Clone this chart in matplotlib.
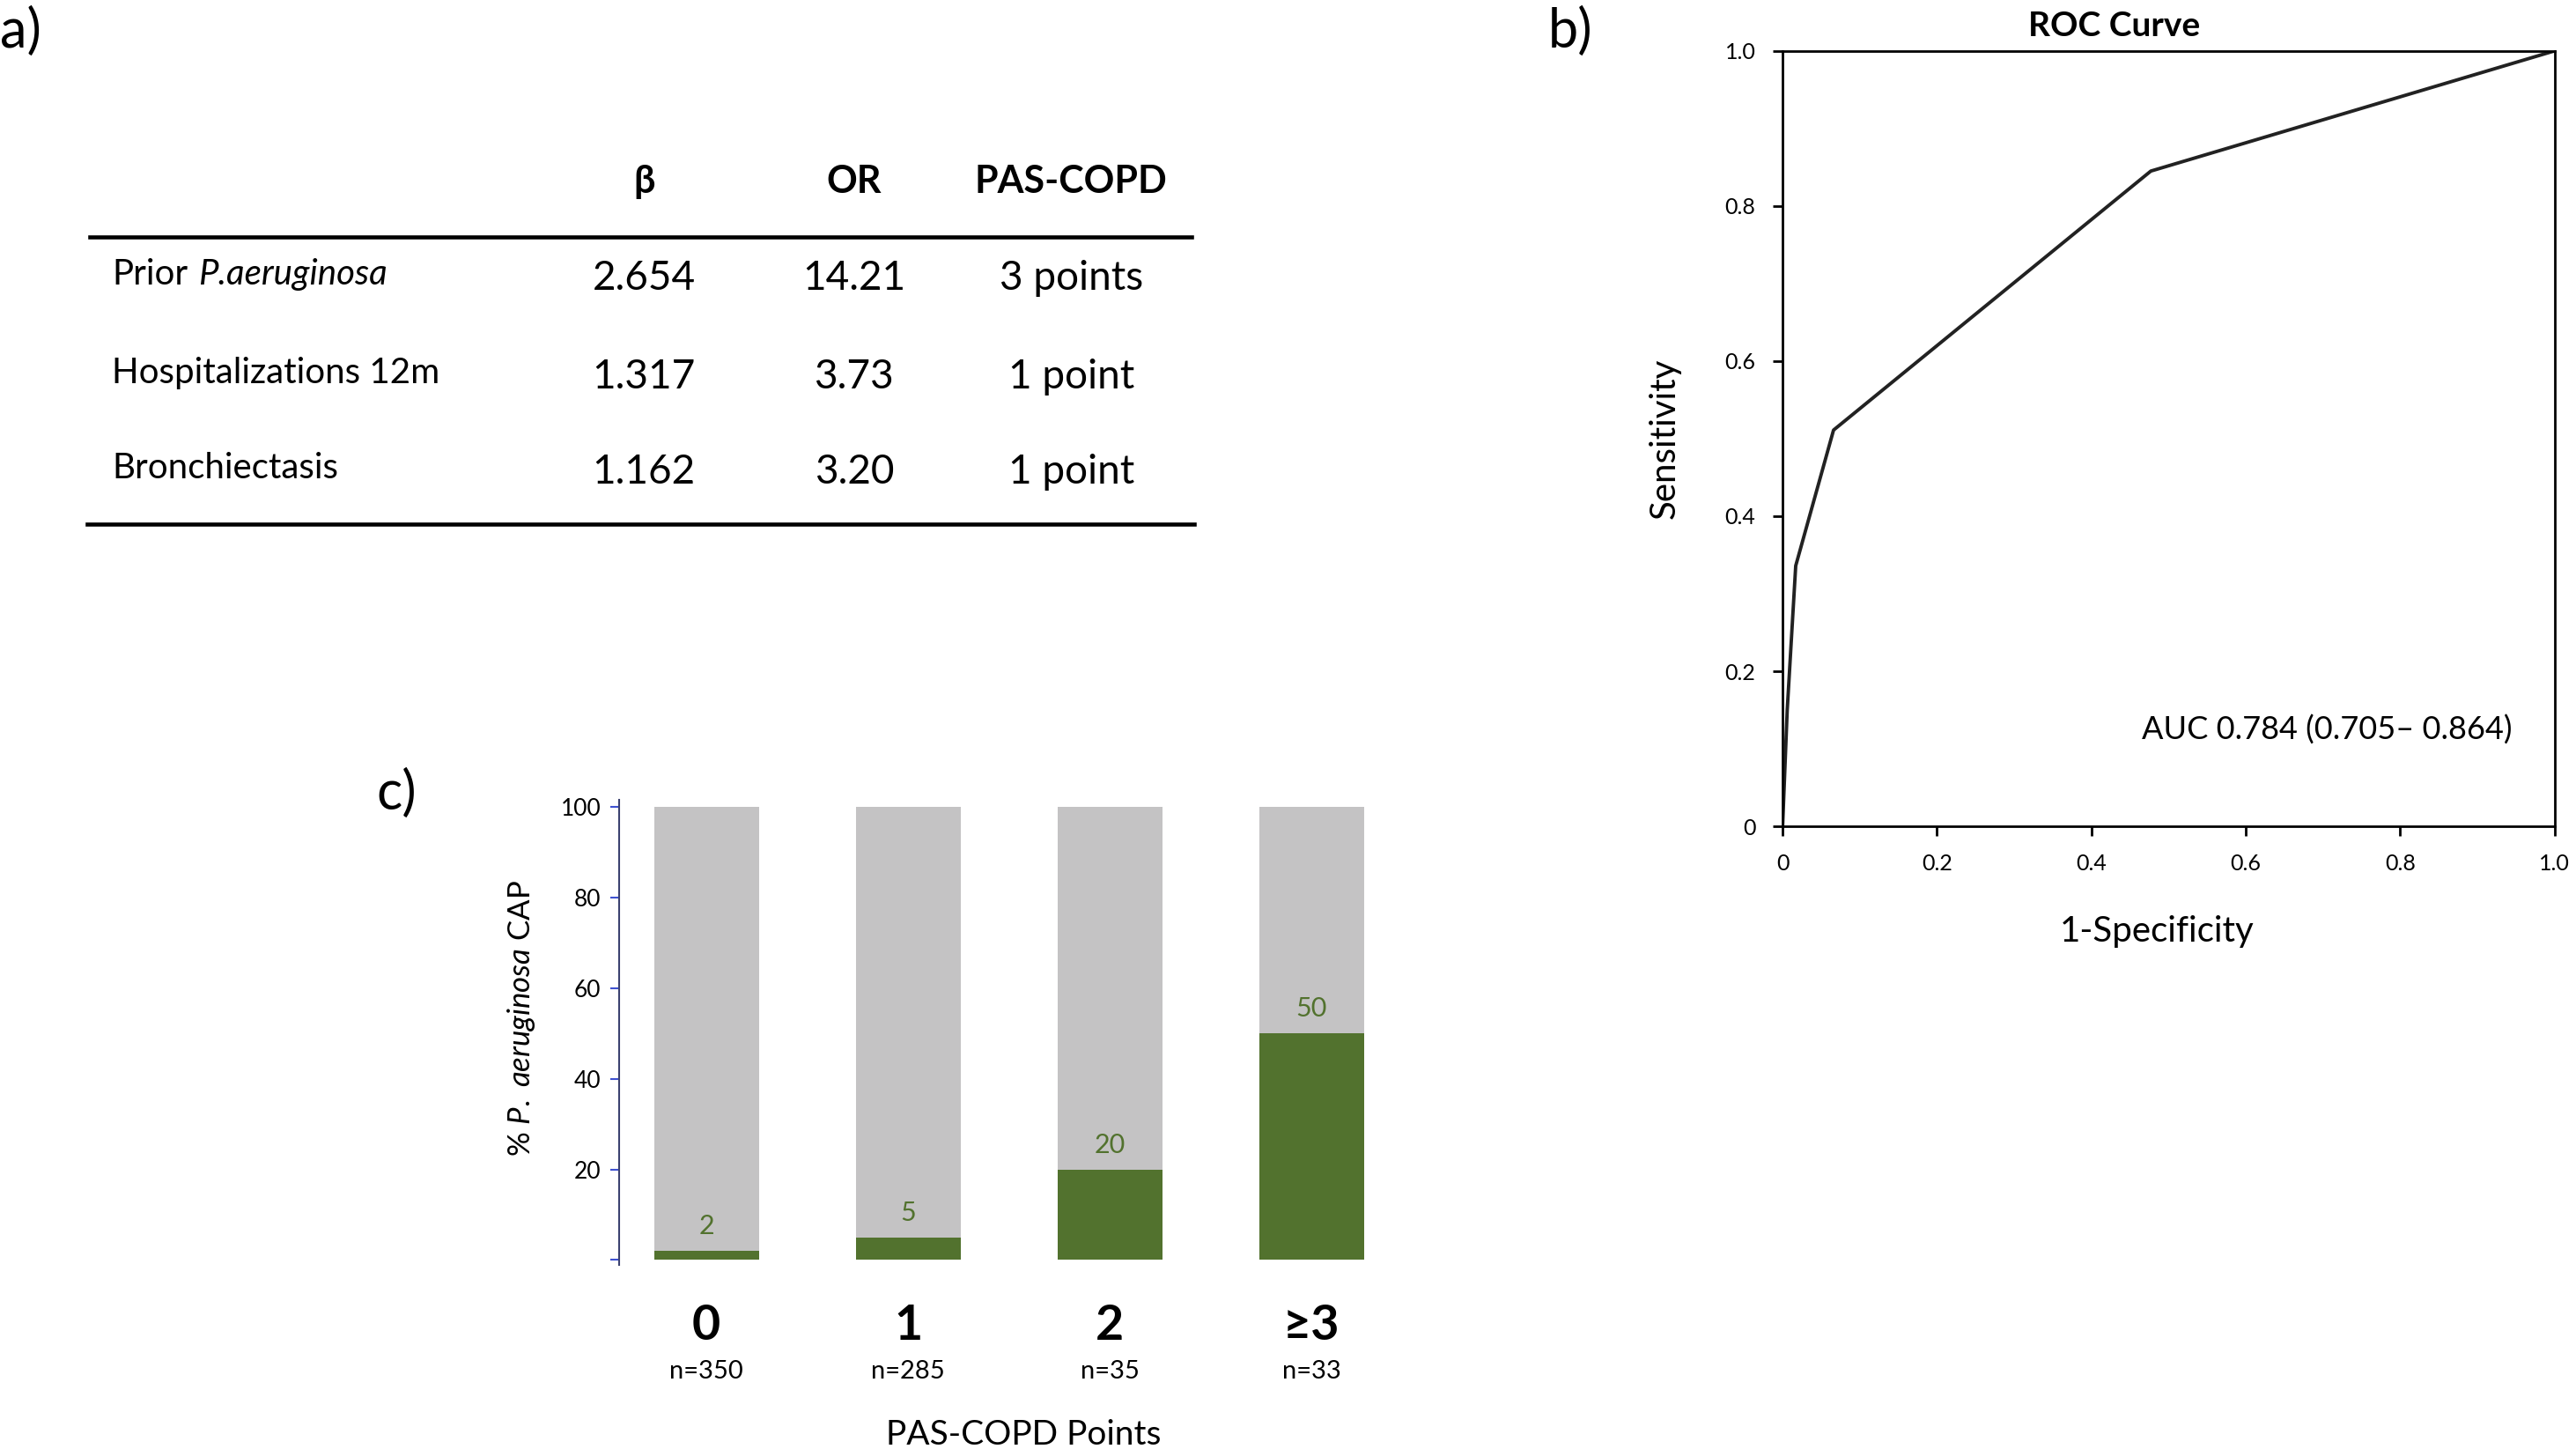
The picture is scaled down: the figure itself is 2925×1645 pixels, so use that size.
import matplotlib.pyplot as plt
from matplotlib.lines import Line2D

plt.rcParams['font.family'] = ['Lato', 'DejaVu Sans']
plt.rcParams['mathtext.fontset'] = 'custom'
plt.rcParams['mathtext.rm'] = 'Lato'
plt.rcParams['mathtext.it'] = 'Lato:italic'

# panel a) table
col_heads = ['β', 'OR', 'PAS-COPD']
row_labels = ['Prior', 'Hospitalizations 12m', 'Bronchiectasis']
row_italic = ['P.aeruginosa', '', '']
beta = ['2.654', '1.317', '1.162']
odds = ['14.21', '3.73', '3.20']
points = ['3 points', '1 point', '1 point']

# panel b) ROC curve
fpr = [0.0, 0.006, 0.017, 0.066, 0.477, 1.0]
tpr = [0.0, 0.15, 0.336, 0.511, 0.845, 1.0]
auc_text = 'AUC 0.784 (0.705– 0.864)'

# panel c) bars
score_cats = ['0', '1', '2', '≥3']
n_labels = ['n=350', 'n=285', 'n=35', 'n=33']
pct_pa = [2, 5, 20, 50]

GREEN = '#52722e'
GREY = '#c4c3c4'

fig = plt.figure(figsize=(29.25, 16.45), dpi=100)
renderer = fig.canvas.get_renderer()

# ---- a) ----
fig.text(0.0, 0.978, 'a)', fontsize=44, va='center', ha='left')
col_x = [0.250, 0.3316, 0.4158]
for x, h in zip(col_x, col_heads):
    fig.text(x, 0.875, h, fontsize=31, fontweight='bold', ha='center', va='center')
row_y = [0.8107, 0.7426, 0.6769]
for i, y in enumerate(row_y):
    t = fig.text(0.0434, y, row_labels[i], fontsize=29, ha='left', va='center')
    if row_italic[i]:
        bb = t.get_window_extent(renderer)
        x_end = bb.x1 / fig.bbox.width
        fig.text(x_end + 0.004, y, row_italic[i], fontsize=29, style='italic', ha='left', va='center')
    fig.text(col_x[0], y - 0.003, beta[i], fontsize=33, ha='center', va='center')
    fig.text(col_x[1], y - 0.003, odds[i], fontsize=33, ha='center', va='center')
    fig.text(col_x[2], y - 0.003, points[i], fontsize=33, ha='center', va='center')
fig.add_artist(Line2D([0.035, 0.4624], [0.8367, 0.8367], color='black', lw=3.3))
fig.add_artist(Line2D([0.0338, 0.4636], [0.6383, 0.6383], color='black', lw=3.3))

# ---- b) ----
fig.text(0.601, 0.978, 'b)', fontsize=44, va='center', ha='left')
ax = fig.add_axes([0.692, 0.4297, 0.2997, 0.5352])
ax.plot(fpr, tpr, color='#222222', lw=2.8)
ax.set_xlim(0, 1)
ax.set_ylim(0, 1)
ticks = [0, 0.2, 0.4, 0.6, 0.8, 1.0]
tick_lbl = ['0', '0.2', '0.4', '0.6', '0.8', '1.0']
ax.set_xticks(ticks)
ax.set_xticklabels(tick_lbl)
ax.set_yticks(ticks)
ax.set_yticklabels(tick_lbl)
ax.tick_params(labelsize=18, length=8, width=2, pad=14)
for s in ax.spines.values():
    s.set_linewidth(2)
ax.set_title('ROC Curve', fontsize=28, fontweight='bold', x=0.43, pad=12)
ax.set_xlabel('1-Specificity', fontsize=29)
ax.xaxis.set_label_coords(0.485, -0.115)
ax.set_ylabel('Sensitivity', fontsize=29, labelpad=36)
ax.text(0.705, 0.125, auc_text, fontsize=26, ha='center', va='center', transform=ax.transAxes)

# ---- c) ----
fig.text(0.146, 0.452, 'c)', fontsize=44, va='center', ha='left')
bx = fig.add_axes([0.2404, 0.1304, 0.2953, 0.3129])
pos = list(range(len(score_cats)))
bx.bar(pos, [100] * len(pos), width=0.52, color=GREY)
bx.bar(pos, pct_pa, width=0.52, color=GREEN)
for p, v in zip(pos, pct_pa):
    bx.annotate(str(v), (p, v), xytext=(0, 10), textcoords='offset points',
                ha='center', va='bottom', fontsize=22, color=GREEN)
bx.set_xlim(-0.432, 3.34)
bx.set_ylim(0, 100)
bx.set_yticks([0, 20, 40, 60, 80, 100])
bx.set_yticklabels(['', '20', '40', '60', '80', '100'])
bx.tick_params(axis='y', labelsize=19, length=7, width=1.5, color='#3f51d0', pad=8)
for s in ['top', 'right', 'bottom']:
    bx.spines[s].set_visible(False)
bx.spines['left'].set_color('#3c4270')
bx.spines['left'].set_linewidth(1.5)
bx.spines['left'].set_bounds(-1, 101.5)
bx.set_xticks(pos)
bx.set_xticklabels(score_cats, fontsize=40, fontweight='bold')
bx.tick_params(axis='x', length=0, pad=36)
for p, n in zip(pos, n_labels):
    bx.text(p, -0.245, n, fontsize=21, ha='center', va='center', transform=bx.get_xaxis_transform())
bx.set_xlabel('PAS-COPD Points', fontsize=28)
bx.xaxis.set_label_coords(0.531, -0.35)
bx.set_ylabel(r'% $\mathit{P.\ aeruginosa}$ CAP', fontsize=25)
bx.yaxis.set_label_coords(-0.108, 0.533)

fig.savefig('out.png', dpi=100)
